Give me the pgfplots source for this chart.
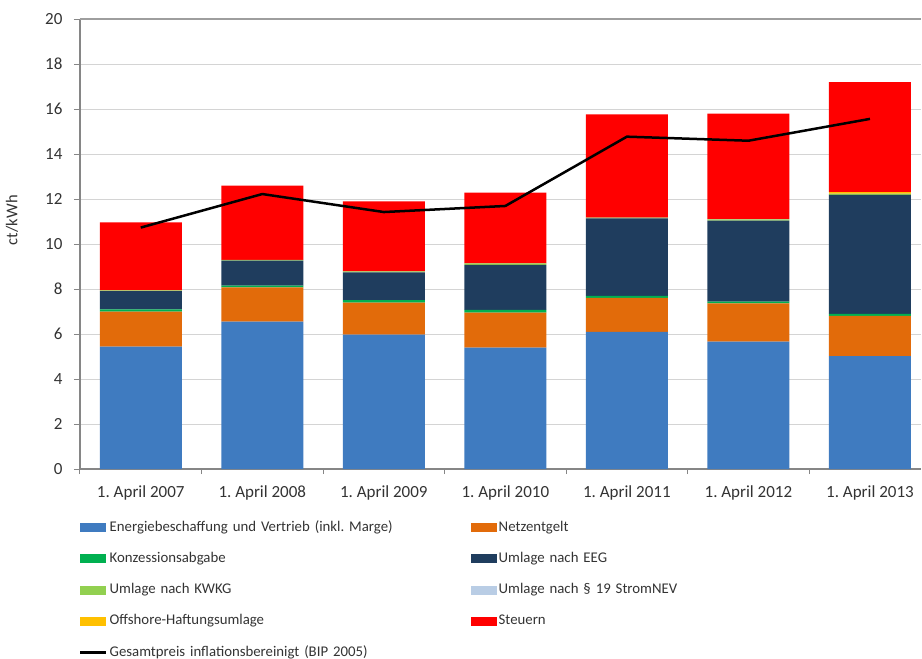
\documentclass[border=0pt]{standalone}
\usepackage{fontspec}
\setmainfont{Carlito}
\usepackage{pgfplots}
\pgfplotsset{compat=1.18}

\definecolor{cEnergie}{HTML}{3F7BC0}
\definecolor{cNetz}{HTML}{E26B0A}
\definecolor{cKonz}{HTML}{00B050}
\definecolor{cEEG}{HTML}{1F3D5E}
\definecolor{cKWKG}{HTML}{92D050}
\definecolor{cStromNEV}{HTML}{B9CDE5}
\definecolor{cOffshore}{HTML}{FFC000}
\definecolor{cSteuern}{HTML}{FF0000}
\definecolor{cGrid}{HTML}{D4D4D4}
\definecolor{cAxis}{HTML}{868686}

\pgfplotsset{
  bar/.style={fill=#1, draw=none,
    legend image code/.code={\fill[##1] (0bp,-4.5bp) rectangle (26bp,4.5bp);}},
  lineleg/.style={legend image code/.code={\draw[##1] (0bp,0bp) -- (26bp,0bp);}},
}

\begin{document}
\frenchspacing
\begin{tikzpicture}
\useasboundingbox (-80bp,-190bp) rectangle (842bp,469bp);
\begin{axis}[
  scale only axis,
  width=841bp, height=450bp,
  xmin=-0.5, xmax=6.42, ymin=0, ymax=20,
  ybar stacked, bar width=82bp,
  axis x line*=bottom, axis y line*=left,
  axis line style={cAxis, line width=1.2bp, -},
  ytick={0,2,...,20},
  ymajorgrids, major grid style={cGrid, line width=0.8bp},
  extra y ticks={20}, extra y tick labels={},
  extra y tick style={major grid style={draw=cAxis!80, line width=1.2bp}},
  xtick={0,...,6},
  xticklabels={1. April 2007,1. April 2008,1. April 2009,1. April 2010,1. April 2011,1. April 2012,1. April 2013},
  minor xtick={-0.5,0.5,...,6.5},
  major x tick style={draw=none},
  tick align=outside,
  minor tick length=5bp, major tick length=6bp,
  tick style={cAxis, line width=1bp},
  /pgf/number format/assume math mode=true,
  tick label style={font=\fontsize{17bp}{19bp}\selectfont, text=black!80},
  yticklabel style={xshift=-8bp},
  xticklabel style={yshift=-7bp},
  ylabel={ct/kWh},
  every axis y label/.style={at={(axis description cs:-0.081,0.553)}, rotate=90, anchor=center,
    font=\fontsize{16.5bp}{19bp}\selectfont, text=black!80},
  legend columns=2,
  legend cell align=left,
  legend style={at={(axis description cs:0,0)}, anchor=north west, xshift=-1bp, yshift=-51bp,
    draw=none, fill=none, inner sep=0pt, row sep=16.2bp,
    font=\fontsize{14.8bp}{17bp}\selectfont,
    nodes={inner sep=0pt, inner xsep=2bp, text height=11bp, text depth=4bp,
      text width=359bp, align=left, text=black!80}},
]
\addplot[bar=cEnergie] coordinates {(0,5.44) (1,6.55) (2,5.97) (3,5.39) (4,6.10) (5,5.66) (6,5.02)};
\addlegendentry{Energiebeschaffung und Vertrieb (inkl. Marge)}
\addplot[bar=cNetz] coordinates {(0,1.55) (1,1.52) (2,1.42) (3,1.56) (4,1.51) (5,1.70) (6,1.79)};
\addlegendentry{Netzentgelt}
\addplot[bar=cKonz] coordinates {(0,0.11) (1,0.08) (2,0.12) (3,0.12) (4,0.08) (5,0.08) (6,0.08)};
\addlegendentry{Konzessionsabgabe}
\addplot[bar=cEEG] coordinates {(0,0.81) (1,1.11) (2,1.23) (3,2.00) (4,3.45) (5,3.60) (6,5.29)};
\addlegendentry{Umlage nach EEG}
\addplot[bar=cKWKG] coordinates {(0,0.03) (1,0.03) (2,0.04) (3,0.07) (4,0.03) (5,0.05) (6,0.04)};
\addlegendentry{Umlage nach KWKG}
\addplot[bar=cStromNEV] coordinates {(0,0) (1,0) (2,0) (3,0) (4,0) (5,0.02) (6,0.02)};
\addlegendentry{Umlage nach § 19 StromNEV}
\addplot[bar=cOffshore] coordinates {(0,0) (1,0) (2,0) (3,0) (4,0) (5,0) (6,0.06)};
\addlegendentry{Offshore-Haftungsumlage}
\addplot[bar=cSteuern] coordinates {(0,3.02) (1,3.30) (2,3.12) (3,3.14) (4,4.59) (5,4.68) (6,4.90)};
\addlegendentry{Steuern}
\addlegendimage{black, line width=2.5bp, lineleg}
\addlegendentry{Gesamtpreis inflationsbereinigt (BIP 2005)}
\end{axis}
\begin{axis}[
  scale only axis,
  width=841bp, height=450bp,
  xmin=-0.5, xmax=6.42, ymin=0, ymax=20,
  hide axis,
]
\addplot[black, line width=2.5bp, mark=none] coordinates {(0,10.73) (1,12.22) (2,11.42) (3,11.69) (4,14.77) (5,14.59) (6,15.56)};
\end{axis}
\end{tikzpicture}
\end{document}
